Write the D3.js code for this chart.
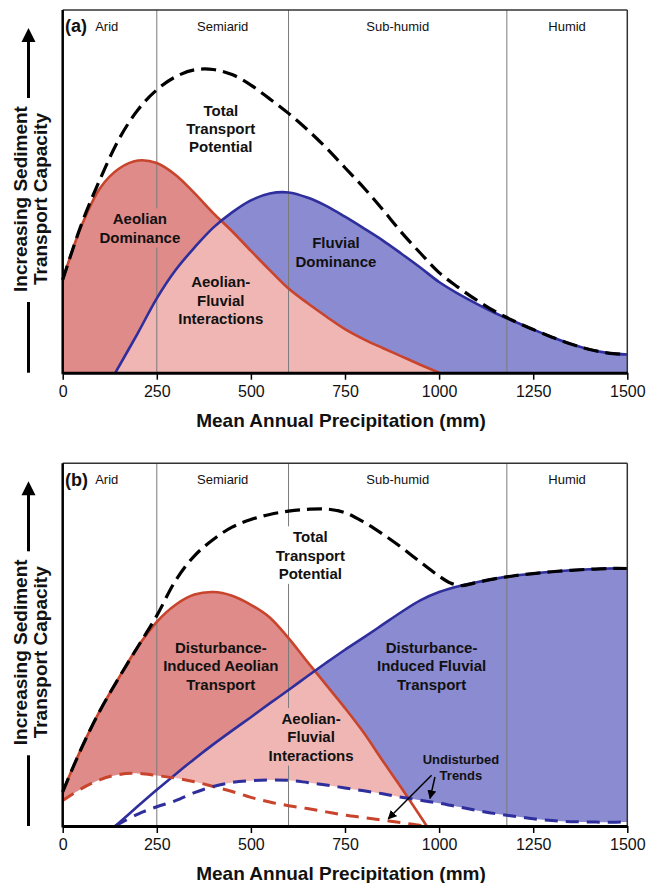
<!DOCTYPE html>
<html><head><meta charset="utf-8">
<script src="https://cdn.jsdelivr.net/npm/d3@7"></script>
<style>
body{margin:0;background:#fff}
svg{display:block}
text{font-family:"Liberation Sans",Arial,Helvetica,sans-serif;fill:#111}
</style>
</head><body>
<svg id="c" width="649" height="883"></svg>
<script>
// ---------- data ----------
const precipTicks = [0,250,500,750,1000,1250,1500];
const zoneNames = ["Arid","Semiarid","Sub-humid","Humid"];
const zoneBounds = [0,250,600,1180,1500];

// panel (a): [precipitation mm, relative transport capacity]
const aTotal = [[0,25.6],[50,41],[100,53.5],[150,64.5],[200,72.5],[250,78],[300,81.6],[350,83.5],[400,83.6],[450,82.2],[500,79.3],[550,75.5],[600,71.5],[650,67],[700,62],[750,56.5],[800,51],[850,45],[900,38.7],[950,33],[1000,27.6],[1050,23.6],[1100,20],[1150,16.8],[1200,14.2],[1250,11.9],[1300,9.8],[1350,7.9],[1400,6.4],[1450,5.4],[1500,5.0]];
const aAeolian = [[0,25.6],[50,40.5],[100,51],[150,56.3],[200,58.5],[250,57.8],[300,54.5],[350,49.5],[400,44],[450,39],[500,33.6],[550,28.3],[600,23.2],[650,19.2],[700,15.5],[750,12],[800,9.2],[850,6.8],[900,4.5],[950,2.2],[1000,0]];
const aFluvial = [[140,0],[200,11],[250,20.5],[300,28.3],[350,34.5],[400,40],[450,44.2],[500,47.5],[550,49.4],[600,49.7],[650,48.3],[700,46],[750,43],[800,39.8],[850,36.5],[900,32.8],[950,29],[1000,25],[1050,21.8],[1100,19],[1150,16.4],[1200,14.1],[1250,11.9],[1300,9.8],[1350,7.9],[1400,6.4],[1450,5.4],[1500,5.0]];

// panel (b)
const bTotal = [[0,9.4],[50,21.5],[100,32],[150,41],[200,49.5],[250,58],[300,67.7],[350,74.5],[400,79],[450,82.4],[500,84.5],[550,85.9],[600,86.8],[650,87.3],[700,87.4],[750,86.4],[800,83.8],[850,80.5],[900,76.8],[950,72.8],[1000,68.9],[1030,67],[1060,66.3],[1090,66.9],[1150,68.2],[1200,69],[1250,69.6],[1300,70.1],[1350,70.5],[1400,70.8],[1450,71],[1500,71]];
const bAeolian = [[0,9.4],[50,21.5],[100,32],[150,41],[200,49.5],[250,56.3],[300,61],[350,63.8],[400,64.5],[450,63.5],[500,61],[550,57.5],[600,51.8],[650,45.3],[700,38.9],[750,32.5],[800,25.7],[850,18],[900,10.5],[950,2.7],[967,0]];
const bFluvial = [[140,0],[200,5.5],[250,10],[300,14.3],[350,18.5],[400,22.5],[450,26.3],[500,30],[550,33.8],[600,37.5],[650,41.3],[700,45],[750,48.6],[800,52],[850,55.5],[900,59],[950,62.2],[1000,64.5],[1060,66.3],[1100,67.2],[1150,68.2],[1200,69],[1250,69.6],[1300,70.1],[1350,70.5],[1400,70.8],[1450,71],[1500,71]];
const bAeolianUndisturbed = [[0,7],[50,10.3],[100,12.8],[150,14.2],[200,14.5],[250,13.9],[300,13.2],[350,12.2],[400,10.9],[450,9.5],[500,7.9],[550,6.6],[600,5.6],[650,4.8],[700,3.9],[750,3],[800,2.3],[850,1.6],[900,0.9],[960,0]];
const bFluvialUndisturbed = [[140,0],[200,3.3],[250,5.3],[300,7],[350,9.2],[400,10.9],[450,12],[500,12.5],[550,12.7],[600,12.6],[650,12],[700,11.3],[750,10.5],[800,9.7],[850,8.9],[900,7.9],[950,7.1],[1000,6.3],[1050,5.3],[1100,4.3],[1150,3.4],[1200,2.7],[1250,2],[1300,1.5],[1350,1.2],[1400,1.1],[1450,1.05],[1500,1.1]];

// ---------- drawing ----------
const svg = d3.select("#c");
const x = d3.scaleLinear().domain([0,1500]).range([62.7,627.3]);
const PH = 362.7;
const C = {redFill:"#df8b89", pink:"#f0b6b4", blueFill:"#8b8bd2", red:"#c8442c", blue:"#2e2e9c"};
const curve = d3.curveCatmullRom.alpha(0.5);

const defs = svg.append("defs");
defs.append("marker").attr("id","ah").attr("viewBox","0 0 10 10").attr("refX",9).attr("refY",5)
  .attr("markerWidth",9).attr("markerHeight",9).attr("markerUnits","userSpaceOnUse").attr("orient","auto")
  .append("path").attr("d","M0,0L10,5L0,10z").attr("fill","#000");

function label(g, bgL, y, t){
  const txt = g.append("text").attr("text-anchor","middle")
    .attr("font-size", t.size||15).attr("font-weight","bold");
  t.lines.forEach((s,i)=>{
    txt.append("tspan").attr("x", x(t.mm)).attr("y", y(t.v) + i*(t.gap||18.3)).attr("dy","0.36em").text(s);
  });
  if (t.bg){
    // hide the zone boundary line behind the label
    const b = txt.node().getBBox();
    bgL.append("rect").attr("x",x(t.gapAt)-3).attr("y",b.y-2).attr("width",6).attr("height",b.height+4).attr("fill",t.bg);
  }
}

function panel(cfg){
  const g = svg.append("g");
  const top = cfg.top, bot = top + PH;
  const y = d3.scaleLinear().domain([0,100]).range([bot, top]);
  const area = d3.area().x(d=>x(d[0])).y0(y(0)).y1(d=>y(d[1])).curve(curve);
  const line = d3.line().x(d=>x(d[0])).y(d=>y(d[1])).curve(curve);

  defs.append("clipPath").attr("id","fl"+cfg.id).append("path").attr("d", area(cfg.fluvial));
  g.append("path").attr("d", area(cfg.aeolian)).attr("fill", C.redFill);
  g.append("path").attr("d", area(cfg.fluvial)).attr("fill", C.blueFill);
  g.append("path").attr("d", area(cfg.aeolian)).attr("fill", C.pink).attr("clip-path", `url(#fl${cfg.id})`);
  if (cfg.undA){
    g.append("path").attr("d", area(cfg.undA)).attr("fill","#fff");
    g.append("path").attr("d", area(cfg.undF)).attr("fill","#fff");
  }
  // zone boundaries
  g.selectAll(null).data(zoneBounds.slice(1,-1)).join("line")
    .attr("x1",d=>x(d)).attr("x2",d=>x(d)).attr("y1",top).attr("y2",bot)
    .attr("stroke","#7a7a7a").attr("stroke-width",1);
  const bgL = g.append("g");

  // curves
  g.append("path").attr("d", line(cfg.aeolian)).attr("fill","none").attr("stroke",C.red).attr("stroke-width",2.6);
  g.append("path").attr("d", line(cfg.fluvial)).attr("fill","none").attr("stroke",C.blue).attr("stroke-width",2.6);
  if (cfg.undA){
    g.append("path").attr("d", line(cfg.undA)).attr("fill","none").attr("stroke",C.red).attr("stroke-width",3).attr("stroke-dasharray","13,8");
    g.append("path").attr("d", line(cfg.undF)).attr("fill","none").attr("stroke",C.blue).attr("stroke-width",3).attr("stroke-dasharray","13,8");
  }
  g.append("path").attr("d", line(cfg.total)).attr("fill","none").attr("stroke","#000").attr("stroke-width",3.2).attr("stroke-dasharray","15,7");

  // frame
  g.append("line").attr("x1",x(0)).attr("x2",x(1500)).attr("y1",top).attr("y2",top).attr("stroke","#333").attr("stroke-width",1.5);
  g.append("line").attr("x1",x(1500)).attr("x2",x(1500)).attr("y1",top).attr("y2",bot).attr("stroke","#333").attr("stroke-width",1.5);
  g.append("line").attr("x1",x(0)).attr("x2",x(0)).attr("y1",top).attr("y2",bot+1.5).attr("stroke","#000").attr("stroke-width",2.5);
  // x axis
  const ax = g.append("g").attr("transform",`translate(0,${bot})`)
    .call(d3.axisBottom(x).tickValues(precipTicks).tickFormat(d3.format("d")).tickSize(7).tickPadding(6).tickSizeOuter(0));
  ax.select(".domain").attr("stroke","#000").attr("stroke-width",3);
  ax.selectAll(".tick line").attr("stroke","#000").attr("stroke-width",1.5);
  ax.selectAll(".tick text").attr("font-size",16).attr("font-family",'"Liberation Sans",Arial,sans-serif').attr("fill","#111");
  g.append("text").attr("x",341).attr("y",bot+47).attr("dy","0.36em").attr("text-anchor","middle")
    .attr("font-size",19).attr("font-weight","bold").text("Mean Annual Precipitation (mm)");

  // zone names
  zoneNames.forEach((n,i)=>{
    g.append("text").attr("x", x((zoneBounds[i]+zoneBounds[i+1])/2) - (i===0?3:0)).attr("y", top+16).attr("dy","0.36em")
      .attr("text-anchor","middle").attr("font-size",13).text(n);
  });
  g.append("text").attr("x",65).attr("y",top+16).attr("dy","0.36em").attr("font-size",18).attr("font-weight","bold").text(cfg.letter);

  // y axis arrow & label
  g.append("line").attr("x1",28.5).attr("x2",28.5).attr("y1",top+88).attr("y2",top+30).attr("stroke","#000").attr("stroke-width",3);
  g.append("path").attr("d",`M28.5,${top+18}L21.5,${top+32}L35.5,${top+32}Z`).attr("fill","#000");
  g.append("line").attr("x1",28.5).attr("x2",28.5).attr("y1",top+292).attr("y2",bot).attr("stroke","#000").attr("stroke-width",3);
  const yl = g.append("text").attr("transform",`translate(0,${top+189}) rotate(-90)`).attr("text-anchor","middle")
    .attr("font-size",19).attr("font-weight","bold");
  yl.append("tspan").attr("x",0).attr("y",26.5).text("Increasing Sediment");
  yl.append("tspan").attr("x",0).attr("y",46.5).text("Transport Capacity");

  cfg.labels.forEach(t=>label(g,bgL,y,t));
  if (cfg.arrows){
    cfg.arrows.forEach(a=>{
      g.append("line").attr("x1",x(a[0][0])).attr("y1",y(a[0][1])).attr("x2",x(a[1][0])).attr("y2",y(a[1][1]))
        .attr("stroke","#000").attr("stroke-width",1.5).attr("marker-end","url(#ah)");
    });
  }
}

panel({id:"a", top:10, letter:"(a)", total:aTotal, aeolian:aAeolian, fluvial:aFluvial,
  labels:[
    {lines:["Total","Transport","Potential"], mm:420, v:72.4},
    {lines:["Aeolian","Dominance"], mm:205, v:42.4, bg:C.redFill, gapAt:250},
    {lines:["Aeolian-","Fluvial","Interactions"], mm:420, v:25.1, gap:18.7},
    {lines:["Fluvial","Dominance"], mm:726, v:35.8}
  ]});

panel({id:"b", top:463.3, letter:"(b)", total:bTotal, aeolian:bAeolian, fluvial:bFluvial,
  undA:bAeolianUndisturbed, undF:bFluvialUndisturbed,
  labels:[
    {lines:["Total","Transport","Potential"], mm:658, v:79.7, bg:"#fff", gapAt:600},
    {lines:["Disturbance-","Induced Aeolian","Transport"], mm:420, v:49.2},
    {lines:["Disturbance-","Induced Fluvial","Transport"], mm:980, v:49.2},
    {lines:["Aeolian-","Fluvial","Interactions"], mm:660, v:29.6, bg:C.pink, gapAt:600},
    {lines:["Undisturbed","Trends"], mm:1058, v:18.4, size:13, gap:16}
  ],
  arrows:[[[980,14.0],[865,2.0]],[[989,13.5],[976,7.6]]]
});
</script>
</body></html>
